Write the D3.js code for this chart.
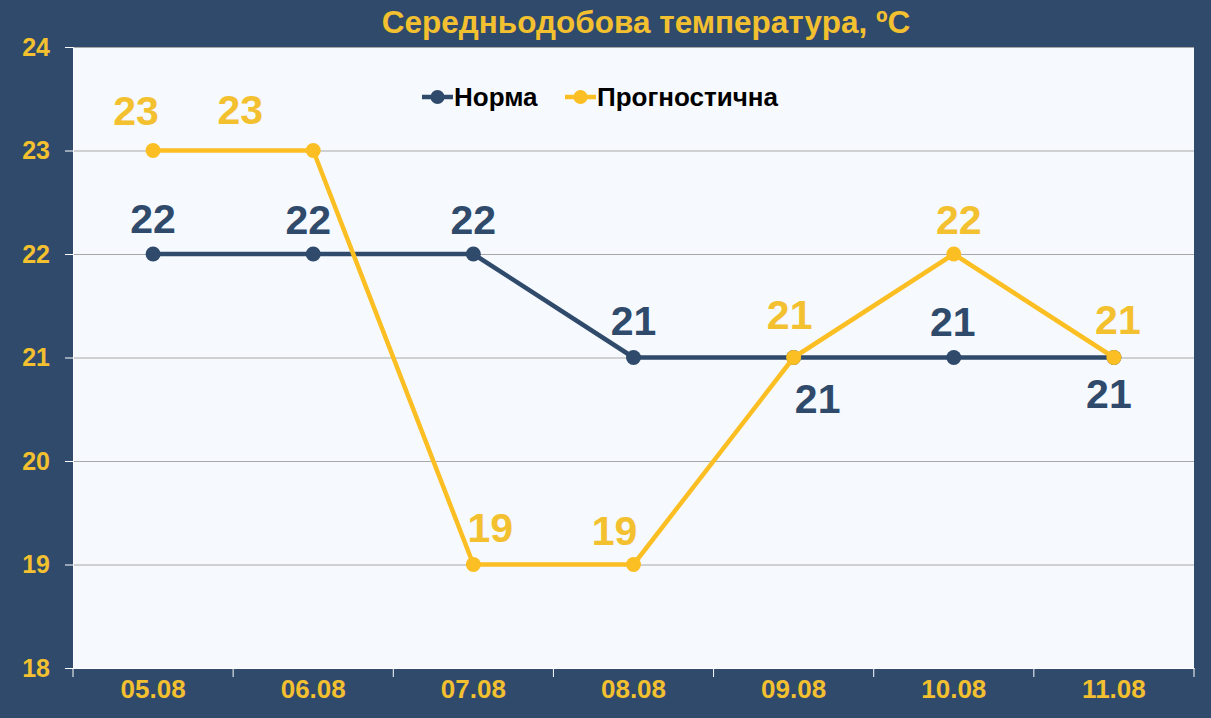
<!DOCTYPE html>
<html>
<head>
<meta charset="utf-8">
<script src="https://cdn.jsdelivr.net/npm/d3@7"></script>
<style>
  body { margin: 0; background: #2f4a6b; }
  text { font-family: Arial, "Liberation Sans", sans-serif; font-weight: bold; }
</style>
</head>
<body>
<div id="chart"></div>
<script>
// Data
const days = ["05.08", "06.08", "07.08", "08.08", "09.08", "10.08", "11.08"];
const norma = [22, 22, 22, 21, 21, 21, 21];
const prognoz = [23, 23, 19, 19, 21, 22, 21];
const yTicks = [18, 19, 20, 21, 22, 23, 24];
const seriesNames = ["Норма", "Прогностична"];

// Hand-placed label nudges [dx, dy] relative to the point
const normaLabelOffsets = [[0, -21], [-5, -20], [0, -20], [0, -23], [24, 55], [-1, -22], [-5, 50]];
const prognozLabelOffsets = [[-17, -26], [-73, -27], [17, -23], [-19, -20], [-4, -29], [5, -20], [4, -24]];

const W = 1211, H = 718;
const margin = { top: 47, right: 17, bottom: 50, left: 73 };
const navy = "#2f4a6b", yellow = "#fbbf24", labelYellow = "#f3c030";

const svg = d3.select("#chart")
  .append("svg")
  .attr("width", W)
  .attr("height", H);

svg.append("rect").attr("width", W).attr("height", H).attr("fill", navy);

const x = d3.scaleBand().domain(days).range([margin.left, W - margin.right]);
const y = d3.scaleLinear().domain([18, 24]).range([H - margin.bottom, margin.top]);
const cx = (d) => x(d) + x.bandwidth() / 2;

// Plot area
svg.append("rect")
  .attr("x", margin.left)
  .attr("y", margin.top)
  .attr("width", W - margin.left - margin.right)
  .attr("height", H - margin.top - margin.bottom)
  .attr("fill", "#f6f9fd");

// Horizontal grid lines
svg.append("g")
  .attr("transform", `translate(${margin.left},0)`)
  .call(d3.axisLeft(y).tickValues(yTicks.slice(1)).tickSize(-(W - margin.left - margin.right)).tickFormat(""))
  .call((g) => g.select(".domain").remove())
  .call((g) => g.selectAll("line").attr("stroke", "#a8a8a8").attr("stroke-width", 1));

// Y axis
svg.append("g")
  .attr("transform", `translate(${margin.left},0)`)
  .call(d3.axisLeft(y).tickValues(yTicks).tickSize(8).tickPadding(15).tickFormat(d3.format("d")))
  .call((g) => g.select(".domain").attr("stroke", "#fff"))
  .call((g) => g.selectAll("line").attr("stroke", "#fff"))
  .call((g) => g.selectAll("text").attr("fill", labelYellow).attr("font-size", 25)
    .attr("font-family", "Arial, 'Liberation Sans', sans-serif").attr("font-weight", "bold"));

// X axis labels
svg.append("g")
  .attr("transform", `translate(0,${H - margin.bottom})`)
  .call(d3.axisBottom(x).tickSize(0).tickPadding(12))
  .call((g) => g.select(".domain").attr("stroke", "#fff"))
  .call((g) => g.selectAll("text").attr("fill", labelYellow).attr("font-size", 26)
    .attr("font-family", "Arial, 'Liberation Sans', sans-serif").attr("font-weight", "bold"));

// X ticks between categories
svg.append("g")
  .selectAll("line")
  .data(days.map((d) => x(d)).concat([x.range()[1]]))
  .join("line")
  .attr("x1", (d) => d).attr("x2", (d) => d)
  .attr("y1", H - margin.bottom).attr("y2", H - margin.bottom + 9)
  .attr("stroke", "#fff");

// Series
const line = d3.line().x((d, i) => cx(days[i])).y((d) => y(d));

function drawSeries(values, color) {
  const g = svg.append("g");
  g.append("path")
    .datum(values)
    .attr("fill", "none")
    .attr("stroke", color)
    .attr("stroke-width", 4.5)
    .attr("stroke-linejoin", "round")
    .attr("d", line);
  g.selectAll("circle")
    .data(values)
    .join("circle")
    .attr("cx", (d, i) => cx(days[i]))
    .attr("cy", (d) => y(d))
    .attr("r", 7.5)
    .attr("fill", color);
  return g;
}

function drawLabels(values, offsets, textColor) {
  svg.append("g")
    .selectAll("text")
    .data(values)
    .join("text")
    .attr("x", (d, i) => cx(days[i]) + offsets[i][0])
    .attr("y", (d, i) => y(d) + offsets[i][1])
    .attr("text-anchor", "middle")
    .attr("font-size", 41)
    .attr("fill", textColor)
    .text((d) => d);
}

drawSeries(norma, navy);
drawSeries(prognoz, yellow);
drawLabels(norma, normaLabelOffsets, navy);
drawLabels(prognoz, prognozLabelOffsets, labelYellow);

// Legend
const legend = svg.append("g").attr("transform", "translate(422,97)");
const legendItems = [
  { name: seriesNames[0], color: navy, x0: 0 },
  { name: seriesNames[1], color: yellow, x0: 143 }
];
legendItems.forEach((it) => {
  const lg = legend.append("g").attr("transform", `translate(${it.x0},0)`);
  lg.append("line").attr("x1", 0).attr("x2", 31).attr("stroke", it.color).attr("stroke-width", 4.5);
  lg.append("circle").attr("cx", 15.5).attr("r", 7).attr("fill", it.color);
  lg.append("text").attr("x", 32).attr("y", 9).attr("font-size", 26).attr("fill", "#000").text(it.name);
});

// Title
svg.append("text")
  .attr("x", 646)
  .attr("y", 33)
  .attr("text-anchor", "middle")
  .attr("font-size", 31.5)
  .attr("fill", labelYellow)
  .text("Середньодобова температура, ºC");
</script>
</body>
</html>
